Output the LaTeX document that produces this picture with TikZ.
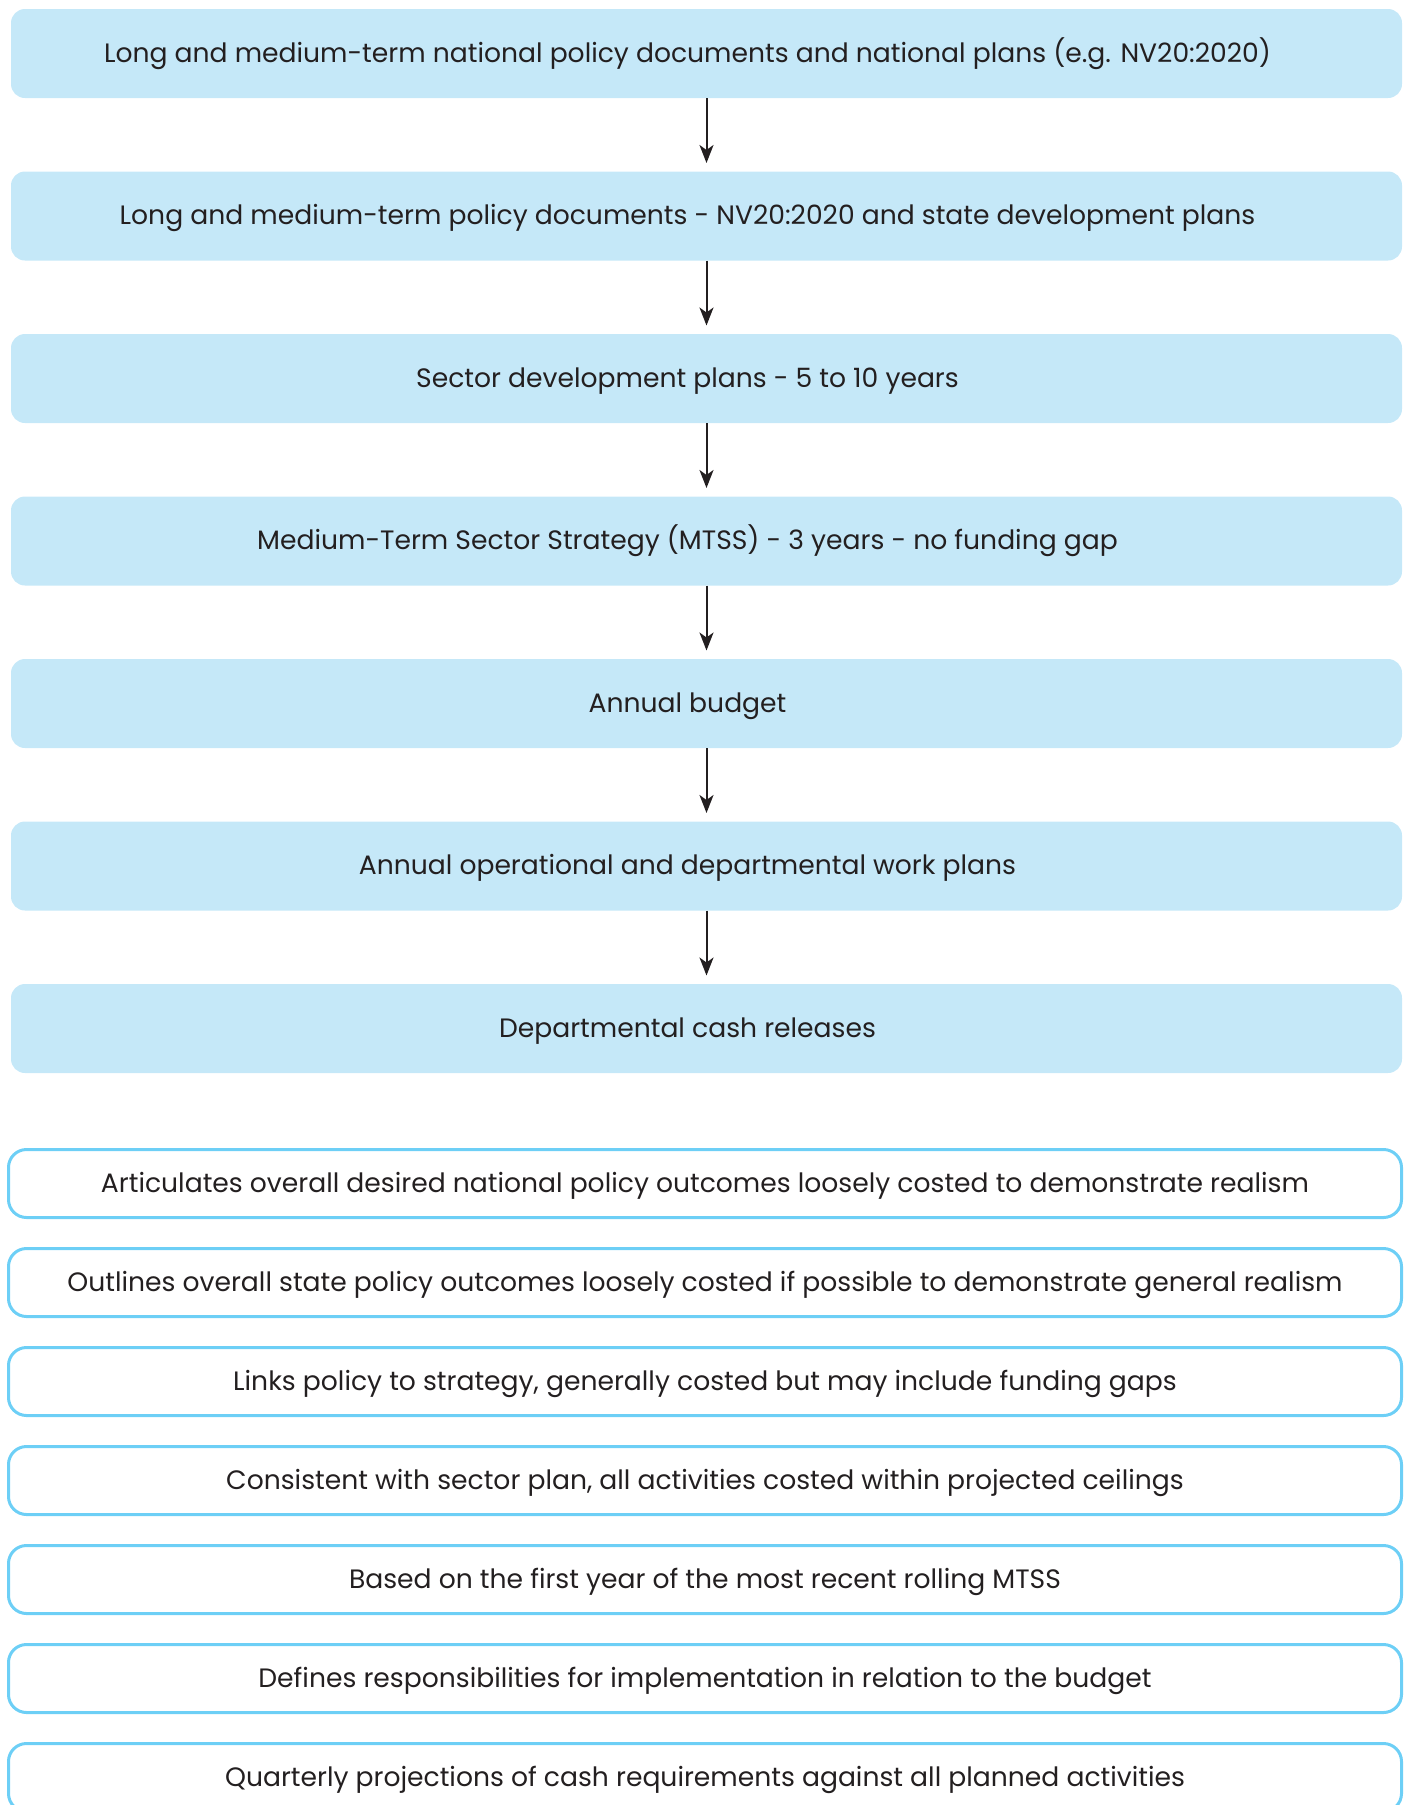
\documentclass[tikz,border=0pt]{standalone}
\usepackage{fontspec}
\setmainfont{Poppins}
\usetikzlibrary{arrows.meta, positioning}
\definecolor{planfill}{HTML}{C5E8F8}
\definecolor{noteline}{HTML}{6DCFF6}
\definecolor{ink}{HTML}{231F20}

\begin{document}
\begin{tikzpicture}[
        font=\fontsize{13.3}{16}\selectfont,
        plan/.style={fill=planfill, rounded corners=7pt, minimum width=695.5pt, minimum height=44.5pt, inner sep=0pt, outer sep=0pt},
        plantext/.style={xshift=-9.5pt, text=ink, inner sep=0pt, text height=0.85em, text depth=0pt},
        note/.style={draw=noteline, line width=1.5pt, rounded corners=9pt, minimum width=696.5pt, minimum height=34pt, inner sep=0pt, outer sep=0pt, text=ink, text height=0.85em, text depth=0pt},
        arrow/.style={-{Stealth[length=9pt, width=7pt, inset=2.5pt]}, line width=1pt, draw=ink}
    ]
        \useasboundingbox (0,0) rectangle (704pt,-902.5pt);

        \node[plan, label={[plantext]center:Long and medium-term national policy documents and national plans (e.g. NV20:2020)}] (p1) at (353.25pt,-26.75pt) {};
        \node[plan, below=36.75pt of p1, label={[plantext]center:Long and medium-term policy documents - NV20:2020 and state development plans}] (p2) {};
        \node[plan, below=36.75pt of p2, label={[plantext]center:Sector development plans - 5 to 10 years}] (p3) {};
        \node[plan, below=36.75pt of p3, label={[plantext]center:Medium-Term Sector Strategy (MTSS) - 3 years - no funding gap}] (p4) {};
        \node[plan, below=36.75pt of p4, label={[plantext]center:Annual budget}] (p5) {};
        \node[plan, below=36.75pt of p5, label={[plantext]center:Annual operational and departmental work plans}] (p6) {};
        \node[plan, below=36.75pt of p6, label={[plantext]center:Departmental cash releases}] (p7) {};

        \draw[arrow] (p1.south) -- ([yshift=4.25pt]p2.north);
        \draw[arrow] (p2.south) -- ([yshift=4.25pt]p3.north);
        \draw[arrow] (p3.south) -- ([yshift=4.25pt]p4.north);
        \draw[arrow] (p4.south) -- ([yshift=4.25pt]p5.north);
        \draw[arrow] (p5.south) -- ([yshift=4.25pt]p6.north);
        \draw[arrow] (p6.south) -- ([yshift=4.25pt]p7.north);

        % notes on each level
        \node[note] (n1) at (352.5pt,-591.75pt) {Articulates overall desired national policy outcomes loosely costed to demonstrate realism};
        \node[note, below=15.5pt of n1] (n2) {Outlines overall state policy outcomes loosely costed if possible to demonstrate general realism};
        \node[note, below=15.5pt of n2] (n3) {Links policy to strategy, generally costed but may include funding gaps};
        \node[note, below=15.5pt of n3] (n4) {Consistent with sector plan, all activities costed within projected ceilings};
        \node[note, below=15.5pt of n4] (n5) {Based on the first year of the most recent rolling MTSS};
        \node[note, below=15.5pt of n5] (n6) {Defines responsibilities for implementation in relation to the budget};
        \node[note, below=15.5pt of n6] (n7) {Quarterly projections of cash requirements against all planned activities};
    \end{tikzpicture}
\end{document}
